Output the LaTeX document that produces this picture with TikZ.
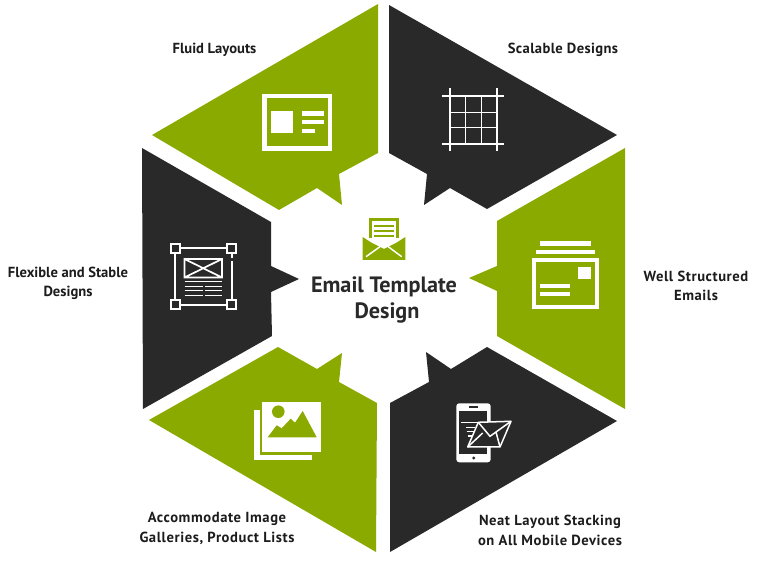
\documentclass[tikz,border=0pt]{standalone}
\usepackage{fontspec}
\setmainfont{PT Sans}
\definecolor{grn}{HTML}{8AAA00}
\definecolor{drk}{HTML}{292929}
\definecolor{txt}{HTML}{1C1C1C}
\tikzset{
 seg/.style={draw=none},
 ico/.style={fill=white,draw=none},
 lab/.style={align=center,font=\bfseries\fontsize{14.6}{19.5}\selectfont,text=txt,inner sep=0pt},
 wide/.style={font=\bfseries\fontsize{14.6}{19.5}\selectfont\addfontfeature{LetterSpace=#1}},
}
\begin{document}
\begin{tikzpicture}[x=1pt,y=-1pt]
\useasboundingbox (0,0) rectangle (764,577);
\fill[white] (0,0) rectangle (764,577);
% segments
\fill[grn,seg] (378,4)--(378,153)--(339,174)--(342,205)--(317,188)--(279,210)--(152,135)--cycle;
\fill[drk,seg] (389,5)--(617,135)--(487,209)--(450,188)--(424,205)--(427,174)--(389,153)--cycle;
\fill[grn,seg] (625,148)--(625,409)--(497,336)--(497,291)--(469,278)--(497,266)--(497,221)--cycle;
\fill[drk,seg] (487,347)--(617,421)--(390,552)--(390,403)--(429,382)--(426,352)--(451,369)--cycle;
\fill[grn,seg] (278,347)--(317,369)--(342,353)--(339,382)--(377,403)--(376,552)--(149,420)--cycle;
\fill[drk,seg] (142,148)--(271,222)--(271,266)--(299,279)--(271,292)--(272,336)--(143,409)--cycle;
% fluid icon
\draw[white,line width=4.5pt] (264.5,96.2) rectangle (330,148.5);
\fill[ico] (271,111) rectangle (293.3,133.3);
\fill[ico] (301.7,111.3) rectangle (323.7,116);
\fill[ico] (301.7,120) rectangle (323.7,124.3);
\fill[ico] (301.7,128.7) rectangle (315,133.3);
% grid icon
\draw[white,line width=2pt] (442.3,96)--(504.3,96) (442.3,144)--(504.3,144) (449.7,88.3)--(449.7,150.7) (497.3,88.3)--(497.3,150.7);
\draw[white,line width=.9pt] (465.7,96)--(465.7,144) (481.3,96)--(481.3,144) (449.7,112)--(497.3,112) (449.7,127.3)--(497.3,127.3);
% well structured icon
\draw[white,line width=4pt] (533.7,260.3) rectangle (597.3,307);
\fill[ico] (578,266.7) rectangle (590.7,279.3);
\fill[ico] (540,283.7) rectangle (570,287.7);
\fill[ico] (540,292) rectangle (570,296);
\fill[ico] (536,249.7) rectangle (595,254);
\fill[ico] (540,241.3) rectangle (590.7,245.7);
% phone
\fill[white,rounded corners=3pt] (456.3,403.3) rectangle (490.7,462.3);
\fill[drk] (459.3,410.7) rectangle (487.3,454);
\fill[drk] (469.3,405.8) rectangle (477.7,407.6);
\fill[drk] (473.7,458) circle (1.7);
\fill[drk] (478.3,422.3)--(511,421.3)--(500,447)--(467.7,447)--cycle;
\draw[white,line width=1.5pt,line join=round] (478.3,422.3)--(511,421.3)--(500,447)--(467.7,447)--cycle;
\draw[white,line width=1.5pt] (478.3,422.3)--(490,436.3)--(511,421.3) (467.7,447)--(482.7,433) (500,447)--(496,432);
\draw[white,line width=1.2pt] (461,422.3)--(477.7,422.3) (466,427.3)--(475,427.3) (466.7,431.3)--(474,431.3) (468,436)--(471.7,436);
% images icon
\fill[ico] (254.3,410) rectangle (259.5,460);
\fill[ico] (254.3,455) rectangle (312.3,460);
\fill[ico] (262.3,401.7) rectangle (321,452);
\fill[grn] (278.3,411.7) circle (6.3);
\fill[grn] (267.7,437.3)--(276.7,425.3)--(281.7,428.3)--(290.7,418.7)--(295,422.7)--(302.7,411)--(316.7,437.3)--cycle;
% left icon
\draw[white,line width=1.8pt] (175.3,248.3)--(231.7,248.3) (175.3,248.3)--(175.3,304.7)--(231.7,304.7)--(231.7,261.5) (231.7,248.3)--(231.7,258.5);
\fill[drk,draw=white,line width=1.8pt] (171,244) rectangle (180,253);
\fill[drk,draw=white,line width=1.8pt] (227.3,244) rectangle (236.3,253);
\fill[drk,draw=white,line width=1.8pt] (171,300.3) rectangle (180,309.3);
\fill[drk,draw=white,line width=1.8pt] (227.3,300.3) rectangle (236.3,309.3);
\draw[white,line width=1.7pt] (184.5,259) rectangle (222,277.5) (184.5,259)--(222,277.5) (184.5,277.5)--(222,259);
\draw[white,line width=1.5pt] (184.5,281.3)--(222,281.3) (184.5,286.3)--(202.7,286.3) (205,286.3)--(222,286.3) (184.5,290.7)--(202.7,290.7) (205,290.7)--(222,290.7) (184.5,295.3)--(202.7,295.3) (205,295.3)--(222,295.3);
% center icon
\draw[grn,line width=3.6pt] (370.3,238)--(370.3,219.5)--(397.3,219.5)--(397.3,238);
\draw[grn,line width=1.9pt] (374,225.7)--(394,225.7) (374,231)--(394,231) (374,236.3)--(394,236.3);
\fill[grn] (362.7,237)--(372,243)--(384,249)--(396,243)--(405.3,237)--(405.3,260)--(362.7,260)--cycle;
\draw[white,line width=1.5pt] (366,256.7)--(380,246.7) (401.7,256.7)--(388.3,246.7);
% labels
\node[lab] (n1) at (214.5,50) {Fluid Layouts};
\node[lab,wide=2.6] (n2) at (563,50) {Scalable Designs};
\node[lab,wide=4] (n3) at (696,286) {Well Structured\\Emails};
\node[lab,wide=3.8] (n4) at (550,530.5) {Neat Layout Stacking\\on All Mobile Devices};
\node[lab,wide=4] (n5) at (217,528.5) {Accommodate Image\\Galleries, Product Lists};
\node[lab] (n6) at (68,283.5) {Flexible and Stable\\Designs};
\node[align=center,font=\bfseries\fontsize{22.2}{25.5}\selectfont,text=drk,inner sep=0pt] (c) at (384,300) {Email Template\\\hspace*{6pt}Design};
\end{tikzpicture}
\end{document}
